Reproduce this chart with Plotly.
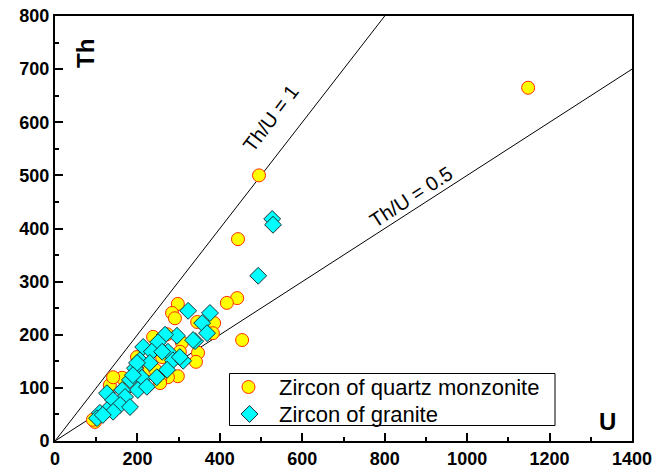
import numpy as np
import plotly.graph_objects as go

# Zircon U–Th contents (ppm)
qm_u = [1148, 495, 444, 442, 417, 454, 298, 284, 291, 345, 386, 383, 238, 272,
        308, 347, 342, 298, 274, 255, 230, 243, 133, 163, 141, 97, 92, 255, 260,
        199, 303]
qm_th = [665, 500, 380, 269, 260, 190, 258, 241, 231, 224, 222, 203, 196, 201,
         185, 166, 149, 122, 120, 115, 135, 134, 105, 119, 120, 36, 40, 109, 158,
         158, 168]

gr_u = [527, 529, 493, 323, 376, 357, 369, 340, 296, 267, 250, 214, 235, 274,
        286, 311, 272, 206, 230, 194, 182, 211, 201, 223, 163, 170, 126, 141,
        158, 126, 109, 102, 182, 247, 303, 335, 141, 116, 199, 260, 189]
gr_th = [418, 407, 311, 245, 241, 222, 203, 188, 198, 200, 186, 177, 168, 168,
         152, 151, 134, 152, 147, 137, 115, 119, 96, 102, 96, 83, 90, 77, 68,
         58, 53, 43, 64, 120, 158, 190, 55, 49, 147, 168, 124]

series_names = ["Zircon of quartz monzonite", "Zircon of granite"]

# Reference Th/U ratio lines
ratios = [1.0, 0.5]
ratio_labels = ["Th/U = 1", "Th/U = 0.5"]
label_pos_u = [524, 863]
label_pos_th = [608, 460]
label_angle = [-53, -33]

U_MAX, TH_MAX = 1400, 800

FONT = "Liberation Sans, Arial, sans-serif"

# plot-area geometry in pixels (used to place paper-referenced items)
L, R, T, B = 55, 632, 16, 441
W, H = R - L, B - T


def px(x):
    return (x - L) / W


def py(y):
    return (B - y) / H


circle_style = dict(symbol="circle", size=13, color="#ffff00",
                    line=dict(color="#ff2a00", width=1))
diamond_style = dict(symbol="diamond", size=13, color="#00ffff",
                     line=dict(color="#1f2f2f", width=1))

fig = go.Figure()

for r in ratios:
    x_end = min(U_MAX, TH_MAX / r)
    xs = np.array([0, x_end])
    fig.add_trace(go.Scatter(x=xs, y=r * xs, mode="lines",
                             line=dict(color="black", width=1),
                             showlegend=False, hoverinfo="skip"))

fig.add_trace(go.Scatter(x=qm_u, y=qm_th, mode="markers",
                         name=series_names[0], marker=circle_style,
                         showlegend=False))
fig.add_trace(go.Scatter(x=gr_u, y=gr_th, mode="markers",
                         name=series_names[1], marker=diamond_style,
                         showlegend=False))

for txt, xu, yt, ang in zip(ratio_labels, label_pos_u, label_pos_th, label_angle):
    fig.add_annotation(x=xu, y=yt, text=txt, showarrow=False, textangle=ang,
                       font=dict(family=FONT, size=20, color="black"))

# axis names written inside the frame
fig.add_annotation(xref="paper", yref="paper", x=px(86), y=py(54),
                   xanchor="center", yanchor="middle",
                   text="<b>Th</b>", showarrow=False, textangle=-90,
                   font=dict(family=FONT, size=24, color="black"))
fig.add_annotation(xref="paper", yref="paper", x=px(607), y=py(421),
                   xanchor="center", yanchor="middle",
                   text="<b>U</b>", showarrow=False,
                   font=dict(family=FONT, size=24, color="black"))

# legend: framed box with symbol keys on an overlay axis spanning the plot area
leg_sym_x = [248.5, 249.5]
leg_row_y = [387, 414]
fig.add_shape(type="rect", xref="paper", yref="paper",
              x0=px(229.5), x1=px(555), y0=py(373.5), y1=py(425.5),
              line=dict(color="black", width=1), fillcolor="white",
              layer="below")
fig.add_trace(go.Scatter(x=[px(leg_sym_x[0])], y=[py(leg_row_y[0])],
                         xaxis="x2", yaxis="y2", mode="markers",
                         marker=circle_style, showlegend=False,
                         hoverinfo="skip"))
fig.add_trace(go.Scatter(x=[px(leg_sym_x[1])], y=[py(leg_row_y[1])],
                         xaxis="x2", yaxis="y2", mode="markers",
                         marker=diamond_style, showlegend=False,
                         hoverinfo="skip"))
for name, yy in zip(series_names, leg_row_y):
    fig.add_annotation(xref="paper", yref="paper", x=px(277), y=py(yy),
                       xanchor="left", yanchor="middle", text=name,
                       showarrow=False,
                       font=dict(family=FONT, size=22, color="black"))

axis_common = dict(
    showgrid=False, zeroline=False, showline=True, linecolor="black",
    linewidth=2, mirror=True, ticks="inside", ticklen=8, tickwidth=1.5,
    tickcolor="black", automargin=False,
    tickfont=dict(family=FONT, size=18, color="black", weight="bold"),
)

fig.update_xaxes(range=[0, U_MAX], dtick=200, tick0=0,
                 minor=dict(dtick=100, ticks="inside", ticklen=4,
                            tickcolor="black", tickwidth=1.5),
                 **axis_common)
fig.update_yaxes(range=[0, TH_MAX], dtick=100, tick0=0,
                 minor=dict(dtick=50, ticks="inside", ticklen=4,
                            tickcolor="black", tickwidth=1.5),
                 **axis_common)

fig.update_layout(
    width=669, height=469,
    margin=dict(l=L, r=669 - R, t=T, b=469 - B, autoexpand=False),
    plot_bgcolor="white", paper_bgcolor="white",
    showlegend=False,
    xaxis2=dict(overlaying="x", range=[0, 1], visible=False,
                domain=[0, 1], fixedrange=True),
    yaxis2=dict(overlaying="y", range=[0, 1], visible=False,
                domain=[0, 1], fixedrange=True),
)

fig.write_html("out.html")
